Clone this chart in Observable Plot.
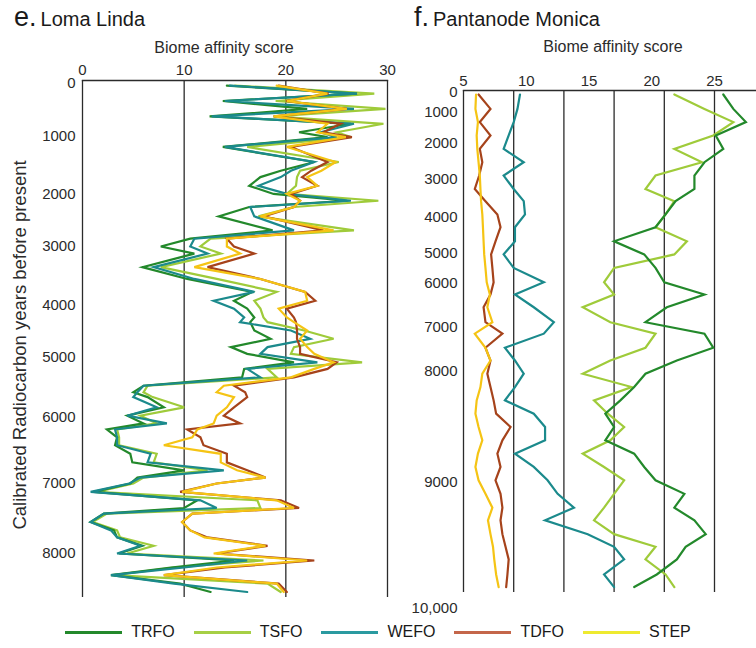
<!DOCTYPE html>
<html>
<head>
<meta charset="utf-8">
<script src="https://cdn.jsdelivr.net/npm/d3@7"></script>
<script src="https://cdn.jsdelivr.net/npm/@observablehq/plot@0.6"></script>
<style>
  body { margin: 0; background: #fff; font-family: "Liberation Sans", Arial, sans-serif; color: #1a1a1a; }
  #wrap { position: relative; width: 756px; height: 648px; overflow: hidden; }
  .panel { position: absolute; top: 0; }
  .title { position: absolute; top: 2px; font-size: 20px; line-height: 30px; white-space: nowrap; }
  .title .lt { font-size: 27px; margin-right: 4px; }
  #legend { position: absolute; left: 0; top: 622px; width: 756px; height: 20px; display: flex; justify-content: center; align-items: center; font-size: 16px; }
  #legend .item { display: flex; align-items: center; margin: 0 9.5px; }
  #legend .sw { width: 57px; height: 3px; margin-right: 9px; }
</style>
</head>
<body>
<div id="wrap">
  <div class="title" style="left:14px"><span class="lt">e.</span>Loma Linda</div>
  <div class="title" style="left:414px"><span class="lt">f.</span>Pantanode Monica</div>
  <div id="left" class="panel" style="left:0"></div>
  <div id="right" class="panel" style="left:400px"></div>
  <div id="legend"></div>
</div>
<script>
// ---------- data ----------
const biomes = ["TRFO", "TSFO", "WEFO", "TDFO", "STEP"];
const biomeColors = ["#23892b", "#9fcb3a", "#1b8a8c", "#a6431b", "#f5c414"];
const legendColors = ["#23892b", "#a6cf45", "#2a9aa0", "#c4664a", "#eeea30"];

// e. Loma Linda (calibrated years BP)
const llAge = [40,190,330,480,620,760,920,1010,1180,1440,1590,1700,1850,1990,2120,2240,2420,2690,2850,3000,3120,3350,3550,3770,3920,4060,4230,4320,4480,4640,4800,4930,5080,5190,5330,5470,5580,5660,5830,5970,6090,6180,6300,6420,6550,6680,6800,6910,7000,7120,7240,7350,7430,7550,7670,7770,7890,8000,8100,8200,8310,8430,8550];
const llTRFO = [14.2,27.0,13.8,22.1,12.5,26.4,21.3,24.1,13.8,22.8,19.5,17.5,16.4,18.8,26.0,16.4,13.4,18.7,10.6,7.7,11.0,5.9,10.3,16.7,14.9,16.2,16.9,16.5,16.9,18.5,14.6,16.2,20.8,15.9,15.7,6.0,5.0,6.4,8.0,4.4,6.0,2.4,3.4,3.2,4.7,4.9,10.0,5.4,4.7,1.1,11.3,10.0,2.1,0.8,3.1,3.4,5.9,3.6,14.9,8.7,2.8,9.6,12.6];
const llTSFO = [15.0,28.7,19.0,29.8,18.8,29.6,25.0,26.4,16.2,25.2,21.4,21.1,21.0,20.1,29.1,20.8,17.3,26.7,12.6,11.6,13.6,7.7,13.2,19.1,16.9,17.5,17.8,18.2,21.8,24.7,20.8,20.5,27.5,18.2,19.1,6.4,6.0,6.9,10.0,5.7,7.3,3.4,3.6,3.6,7.3,7.0,12.3,6.0,5.0,1.4,17.2,17.5,2.4,1.0,3.4,3.7,7.0,4.4,17.8,9.0,3.1,18.2,19.5];
const llWEFO = [14.5,27.0,14.0,26.7,12.7,26.7,23.4,25.0,14.0,22.8,20.5,19.5,17.3,20.1,26.4,16.5,16.9,20.8,11.0,10.6,12.3,7.0,11.0,16.9,12.9,14.9,15.9,15.5,20.5,22.4,18.2,17.5,23.1,16.2,17.5,6.0,5.4,5.0,7.3,4.4,8.3,3.2,3.4,3.4,6.7,6.4,13.9,5.7,4.6,0.8,11.6,13.2,2.1,0.8,2.8,3.4,5.7,3.4,16.2,10.0,2.8,9.0,16.2];
const llTDFO = [19.3,24.2,20.0,26.0,18.8,25.4,23.7,26.5,20.5,24.1,22.5,21.6,23.1,20.5,21.4,20.8,17.8,23.7,14.2,14.9,16.9,12.3,17.5,21.9,22.9,20.1,20.8,21.0,21.1,21.1,21.4,21.4,25.0,24.1,20.8,14.9,16.0,16.2,14.9,13.9,15.5,10.3,11.6,11.9,14.2,14.2,16.2,18.0,13.2,9.6,19.5,21.3,10.8,9.8,10.6,12.3,18.2,13.2,22.8,14.0,8.0,19.3,20.1];
const llSTEP = [19.1,24.1,20.1,26.0,18.8,24.1,23.1,25.9,20.1,24.9,23.5,22.1,23.1,20.1,21.4,20.8,17.5,24.7,14.2,14.2,15.5,11.0,17.5,21.9,22.1,19.3,20.1,20.8,22.1,21.4,22.1,22.8,24.7,22.8,20.5,13.9,13.2,14.9,14.2,13.2,12.9,11.3,10.8,8.0,13.6,13.6,15.2,18.0,13.2,9.8,19.1,20.8,10.8,9.8,10.6,12.0,18.0,12.9,22.1,13.2,8.0,19.1,19.8];

// f. Pantanode Monica (calibrated years BP)
const pmAge = [100,820,1310,1740,2150,2520,2890,3250,3570,3920,4270,4660,5030,5480,5960,6250,6540,6880,7140,7460,7750,8020,8140,8260,8380,8500,8620,8740,8860,8980,9090,9200,9300,9410,9510,9610,9730,9830];
const pmTRFO = [25.7,26.5,27.5,25.1,25.7,24.2,23.4,23.4,21.9,21.1,20.3,17.0,19.4,20.3,21.0,24.2,21.2,19.5,24.2,24.9,22.0,19.5,18.6,17.5,16.3,17.0,16.3,18.6,19.4,20.3,22.6,21.8,23.4,24.3,22.7,22.0,20.4,18.6];
const pmTSFO = [21.8,24.2,26.5,24.9,21.8,24.0,20.3,19.5,21.8,21.1,20.3,22.8,21.8,17.0,16.2,17.0,14.5,16.7,20.3,19.5,16.7,14.5,18.4,15.4,16.5,17.8,16.7,14.5,16.2,17.8,17.0,16.2,15.4,17.0,20.3,19.5,21.1,21.8];
const pmWEFO = [9.5,9.3,9.0,8.6,8.2,9.8,8.2,9.0,9.8,9.9,9.1,9.1,8.2,9.0,11.4,9.1,10.6,12.2,11.4,8.3,9.1,9.8,9.1,8.3,10.6,11.5,11.5,9.1,10.6,11.7,12.5,13.8,11.5,14.9,17.0,17.8,16.2,17.0];
const pmTDFO = [6.2,7.15,6.3,7.15,6.3,6.5,6.25,5.9,6.75,7.7,7.95,7.55,7.2,7.3,7.4,7.15,6.6,6.75,8.1,6.75,7.15,6.9,7.15,7.4,7.6,8.75,8.1,7.7,7.95,7.55,7.95,8.1,7.95,8.1,8.35,8.6,8.5,8.4];
const pmSTEP = [6.0,5.95,6.15,6.05,6.1,6.2,6.3,6.35,6.4,6.5,6.55,6.6,6.65,6.75,6.85,7.1,6.9,7.3,5.9,6.75,7.15,6.5,6.35,6.05,5.95,6.2,6.5,6.15,5.95,6.2,6.75,7.3,6.95,7.15,7.35,7.45,7.6,7.8];

// axis ticks; the age axes are not linear (age-depth model): relative core depth at each labelled age
const llXTicks = [0, 10, 20, 30];
const llYTicks = [0, 1000, 2000, 3000, 4000, 5000, 6000, 7000, 8000];
const llTickDepth = [0, 53, 111, 163, 222, 274, 334, 400, 470];
const pmXTicks = [5, 10, 15, 20, 25];
const pmGrid = [5, 9, 13, 17, 21, 25];
const pmYTicks = [0, 1000, 2000, 3000, 4000, 5000, 6000, 7000, 8000, 9000, 10000];
const pmTickDepth = [0, 20, 51, 87, 125, 161, 191, 235, 279, 390, 516];
const xTitle = "Biome affinity score";
const yTitle = "Calibrated Radiocarbon years before present";

// ---------- build ----------
const font = "'Liberation Sans', Arial, sans-serif";
const ink = "#2b2b2b";
const llDepth = d3.scaleLinear().domain(llYTicks).range(llTickDepth);
const pmDepth = d3.scaleLinear().domain(pmYTicks).range(pmTickDepth);

function seriesMarks(ages, depthOf, cols) {
  const order = [1, 0, 2, 3, 4];
  return order.map(i => Plot.line(ages.map((a, k) => ({age: a, depth: depthOf(a), score: cols[i][k], biome: biomes[i]})), {
    x: "score", y: "depth", stroke: biomeColors[i], strokeWidth: 2.2, strokeLinejoin: "miter", strokeMiterlimit: 4
  }));
}

const left = Plot.plot({
  width: 400, height: 615,
  marginTop: 80, marginLeft: 82, marginRight: 13, marginBottom: 18,
  style: {fontFamily: font, color: ink, background: "transparent", overflow: "visible"},
  x: {domain: [0, 30]},
  y: {domain: [-3, 514], reverse: true},
  marks: [
    Plot.gridX(llXTicks, {stroke: ink, strokeOpacity: 1, strokeWidth: 1.3}),
    Plot.frame({anchor: "top", stroke: ink, strokeWidth: 1.3}),
    ...seriesMarks(llAge, llDepth, [llTRFO, llTSFO, llWEFO, llTDFO, llSTEP]),
    Plot.axisX({anchor: "top", ticks: llXTicks, tickSize: 0, tickPadding: 6, fontSize: 15, label: null}),
    Plot.axisY({ticks: llYTicks.map(llDepth), tickSize: 0, tickPadding: 7, fontSize: 15,
      tickFormat: d => String(Math.round(llDepth.invert(d))), label: null}),
    Plot.text([xTitle], {frameAnchor: "top", lineAnchor: "middle", textAnchor: "middle", dx: -11, dy: -33, fontSize: 16, fill: ink}),
    Plot.text([yTitle], {frameAnchor: "left", textAnchor: "middle", lineAnchor: "middle", rotate: -90, dx: -62, dy: 6, fontSize: 18.5, fill: ink})
  ]
});
document.getElementById("left").appendChild(left);

const right = Plot.plot({
  width: 356, height: 625,
  marginTop: 90, marginLeft: 63, marginRight: 0, marginBottom: 33,
  style: {fontFamily: font, color: ink, background: "transparent", overflow: "visible"},
  x: {domain: [5, 25], range: [63, 314]},
  y: {domain: [-2, 500], reverse: true},
  marks: [
    Plot.gridX(pmGrid, {stroke: ink, strokeOpacity: 1, strokeWidth: 1.3}),
    Plot.frame({anchor: "top", stroke: ink, strokeWidth: 1.3}),
    ...seriesMarks(pmAge, pmDepth, [pmTRFO, pmTSFO, pmWEFO, pmTDFO, pmSTEP]),
    Plot.axisX({anchor: "top", ticks: pmXTicks, tickSize: 0, tickPadding: 5, fontSize: 15, label: null}),
    Plot.axisY({ticks: pmYTicks.map(pmDepth), tickSize: 0, tickPadding: 6, fontSize: 15,
      tickFormat: d => { const a = Math.round(pmDepth.invert(d)); return a >= 10000 ? d3.format(",")(a) : String(a); }, label: null}),
    Plot.text([xTitle], {frameAnchor: "top", lineAnchor: "middle", textAnchor: "middle", dx: 3, dy: -44, fontSize: 16, fill: ink})
  ]
});
document.getElementById("right").appendChild(right);

// legend
const legend = document.getElementById("legend");
biomes.forEach((b, i) => {
  const it = document.createElement("div");
  it.className = "item";
  const sw = document.createElement("div");
  sw.className = "sw";
  sw.style.background = legendColors[i];
  const tx = document.createElement("span");
  tx.textContent = b;
  it.appendChild(sw); it.appendChild(tx);
  legend.appendChild(it);
});
</script>
</body>
</html>
